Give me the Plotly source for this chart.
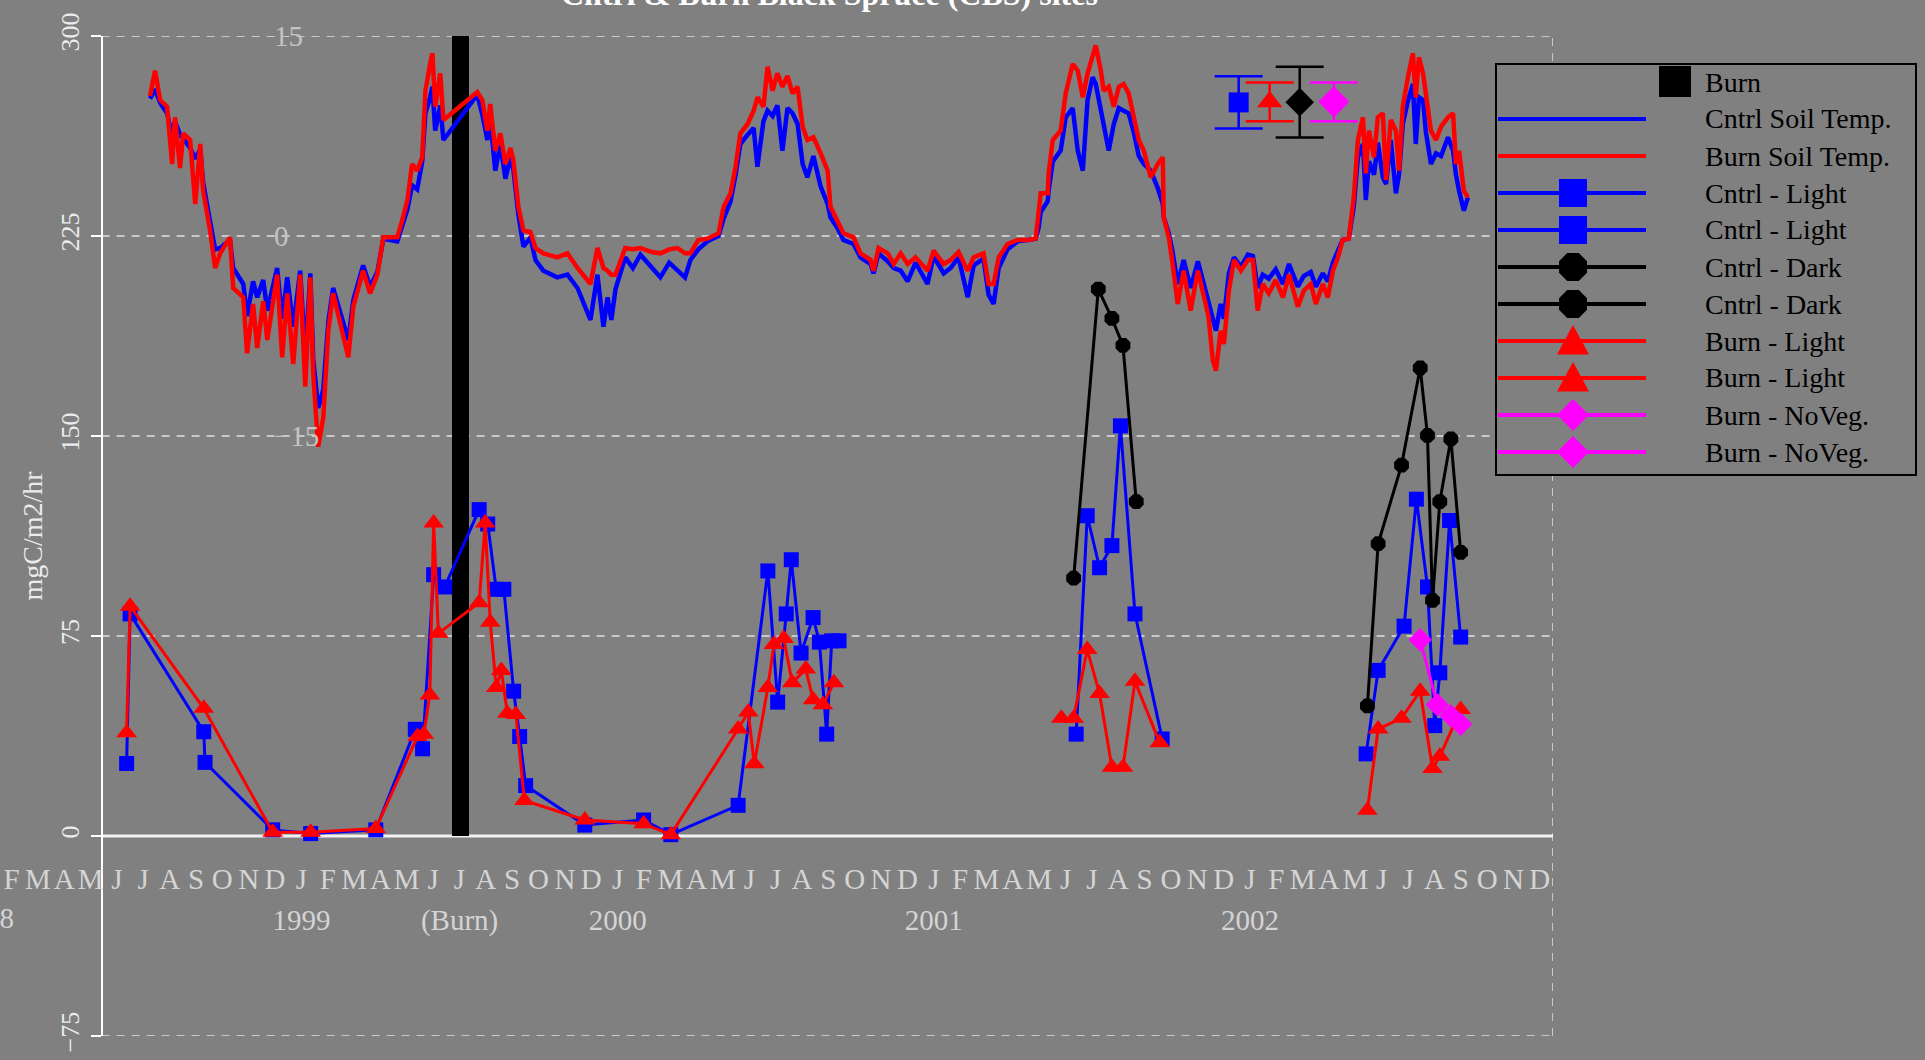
import plotly.graph_objects as go

# ---------------------------------------------------------------- data
# time axis in decimal years

# soil temperature (deg C), control and burned sites
temp_year = [
    1998.563, 1998.579, 1998.595, 1998.617, 1998.633, 1998.642, 1998.658, 1998.668, 1998.690, 1998.706,
    1998.722, 1998.731, 1998.753, 1998.769, 1998.785, 1998.816, 1998.826, 1998.858, 1998.870, 1998.889,
    1998.902, 1998.921, 1998.934, 1998.965, 1998.981, 1998.997, 1999.016, 1999.038, 1999.054, 1999.070,
    1999.079, 1999.095, 1999.111, 1999.127, 1999.142, 1999.190, 1999.206, 1999.237, 1999.259, 1999.282,
    1999.301, 1999.345, 1999.361, 1999.377, 1999.392, 1999.408, 1999.424, 1999.434, 1999.449, 1999.456,
    1999.465, 1999.481, 1999.491, 1999.598, 1999.614, 1999.630, 1999.639, 1999.655, 1999.671, 1999.687,
    1999.703, 1999.712, 1999.728, 1999.744, 1999.766, 1999.782, 1999.807, 1999.851, 1999.883, 1999.915,
    1999.956, 1999.978, 1999.997, 2000.010, 2000.022, 2000.035, 2000.066, 2000.090, 2000.114, 2000.150,
    2000.177, 2000.205, 2000.231, 2000.255, 2000.272, 2000.297, 2000.326, 2000.361, 2000.377, 2000.399,
    2000.415, 2000.430, 2000.453, 2000.472, 2000.484, 2000.503, 2000.516, 2000.532, 2000.547, 2000.563,
    2000.579, 2000.595, 2000.611, 2000.627, 2000.642, 2000.661, 2000.684, 2000.706, 2000.715, 2000.737,
    2000.756, 2000.788, 2000.810, 2000.842, 2000.851, 2000.867, 2000.896, 2000.915, 2000.937, 2000.959,
    2000.984, 2001.022, 2001.041, 2001.073, 2001.095, 2001.120, 2001.149, 2001.168, 2001.199, 2001.215,
    2001.231, 2001.247, 2001.275, 2001.307, 2001.339, 2001.364, 2001.373, 2001.380, 2001.402, 2001.405,
    2001.418, 2001.443, 2001.459, 2001.481, 2001.497, 2001.513, 2001.528, 2001.544, 2001.554, 2001.570,
    2001.579, 2001.595, 2001.611, 2001.627, 2001.642, 2001.658, 2001.674, 2001.690, 2001.706, 2001.728,
    2001.750, 2001.766, 2001.769, 2001.785, 2001.797, 2001.813, 2001.832, 2001.854, 2001.877, 2001.896,
    2001.911, 2001.924, 2001.934, 2001.949, 2001.959, 2001.975, 2001.991, 2002.013, 2002.035, 2002.051,
    2002.066, 2002.082, 2002.101, 2002.123, 2002.146, 2002.165, 2002.193, 2002.212, 2002.234, 2002.250,
    2002.272, 2002.288, 2002.304, 2002.320, 2002.335, 2002.354, 2002.370, 2002.383, 2002.399, 2002.408,
    2002.418, 2002.434, 2002.446, 2002.462, 2002.472, 2002.487, 2002.503, 2002.513, 2002.525, 2002.541,
    2002.557, 2002.566, 2002.576, 2002.589, 2002.598, 2002.614, 2002.630, 2002.646, 2002.668, 2002.684,
    2002.693, 2002.703, 2002.718, 2002.731,
]
burn_soil_temp = [
    10.5, 12.4, 10.2, 9.7, 5.4, 8.9, 5.1, 7.7, 7.2, 2.4,
    6.9, 3.4, 0.4, -2.4, -1.3, -0.1, -3.9, -4.6, -8.8, -5.1,
    -8.4, -4.9, -7.8, -2.9, -9.1, -4.3, -9.6, -2.9, -11.3, -3.1,
    -10.3, -15.8, -13.6, -7.1, -4.3, -9.1, -5.3, -2.6, -4.3, -2.9,
    -0.1, -0.1, 1.2, 2.7, 5.4, 4.9, 5.9, 10.9, 12.9, 13.7,
    9.7, 12.2, 8.7, 10.8, 10.2, 7.9, 9.9, 6.4, 7.7, 5.4,
    6.6, 5.7, 2.2, 0.4, 0.3, -0.9, -1.3, -1.6, -1.3, -2.4,
    -3.6, -0.9, -2.4, -2.6, -2.9, -2.9, -0.9, -1.0, -0.9, -1.2,
    -1.3, -1.0, -0.9, -1.3, -1.3, -0.3, -0.2, 0.2, 2.2, 3.2,
    5.2, 7.7, 8.4, 9.4, 10.4, 9.7, 12.7, 10.9, 12.2, 11.2,
    12.0, 10.7, 11.2, 8.2, 7.2, 7.4, 6.2, 4.9, 2.2, 1.2,
    0.2, -0.1, -1.3, -1.8, -2.6, -0.9, -1.3, -2.1, -1.3, -2.1,
    -1.6, -2.6, -1.1, -2.1, -1.8, -1.2, -2.6, -1.6, -1.3, -3.6,
    -3.6, -1.6, -0.6, -0.3, -0.3, -0.2, 1.4, 3.2, 3.2, 4.7,
    7.2, 7.9, 10.7, 12.9, 12.4, 10.4, 12.2, 13.4, 14.3, 12.4,
    10.9, 11.2, 9.7, 11.2, 11.4, 10.7, 8.9, 7.2, 6.4, 4.4,
    5.4, 5.9, 1.4, -0.1, -2.1, -5.1, -2.6, -5.6, -2.6, -4.6,
    -6.1, -9.3, -10.1, -7.1, -8.1, -4.1, -1.8, -2.6, -1.8, -1.8,
    -5.6, -3.6, -4.3, -3.3, -4.6, -2.9, -5.3, -4.1, -3.6, -5.1,
    -3.6, -4.6, -2.6, -1.6, -0.3, -0.2, 2.9, 7.2, 8.9, 4.7,
    7.9, 5.9, 8.9, 9.2, 4.2, 8.7, 7.9, 4.9, 9.7, 11.9,
    13.7, 10.4, 13.4, 12.2, 10.4, 7.9, 7.2, 8.2, 8.9, 9.2,
    5.4, 6.4, 3.4, 2.9,
]
cntrl_soil_temp = [
    10.3, 11.0, 10.0, 9.2, 7.5, 8.6, 7.6, 7.3, 6.6, 5.8,
    6.5, 4.0, 1.0, -1.0, -0.9, -0.3, -2.4, -3.6, -6.0, -3.4,
    -4.6, -3.3, -5.6, -2.4, -6.2, -3.1, -6.8, -2.6, -9.0, -2.8,
    -9.2, -12.9, -11.5, -6.4, -3.9, -7.8, -4.8, -2.2, -3.8, -2.7,
    -0.2, -0.4, 0.8, 2.0, 3.8, 3.5, 5.6, 9.2, 10.4, 11.2,
    7.9, 9.8, 7.2, 10.6, 9.1, 7.2, 8.8, 4.9, 6.9, 4.3,
    5.9, 5.0, 1.6, -0.8, -0.1, -1.8, -2.6, -3.1, -2.9, -3.9,
    -6.3, -2.9, -6.8, -4.6, -6.3, -4.0, -1.6, -2.4, -1.4, -2.4,
    -3.1, -2.0, -2.6, -3.1, -1.8, -1.0, -0.4, 0.0, 1.3, 2.6,
    4.6, 6.9, 7.6, 8.1, 5.2, 8.6, 9.4, 9.0, 9.8, 6.4,
    9.6, 9.2, 8.4, 5.4, 4.4, 6.0, 3.7, 2.4, 1.4, 0.6,
    -0.3, -0.6, -1.6, -2.1, -2.8, -1.3, -1.9, -2.4, -2.6, -3.4,
    -2.0, -3.6, -1.5, -2.8, -2.4, -1.6, -4.6, -2.2, -1.7, -4.4,
    -5.1, -2.4, -1.0, -0.4, -0.3, -0.2, 0.6, 1.8, 2.6, 3.4,
    5.6, 6.4, 8.9, 9.6, 6.4, 4.9, 10.2, 11.9, 11.4, 9.4,
    8.6, 6.4, 8.4, 9.6, 9.4, 9.2, 7.8, 6.0, 5.4, 4.9,
    3.6, 2.4, 1.4, 0.2, -1.2, -3.6, -1.8, -3.9, -1.9, -3.8,
    -5.0, -6.2, -7.1, -5.1, -6.2, -2.8, -1.6, -2.3, -1.4, -1.5,
    -3.9, -2.9, -3.2, -2.5, -3.6, -2.1, -3.8, -3.0, -2.7, -3.8,
    -2.8, -3.4, -2.0, -1.1, -0.3, -0.2, 2.2, 5.9, 6.9, 2.7,
    5.6, 4.6, 7.0, 4.4, 3.9, 7.2, 3.2, 4.6, 8.4, 10.1,
    11.4, 6.9, 10.4, 10.2, 7.8, 5.4, 6.2, 6.0, 7.4, 6.4,
    4.6, 3.4, 1.9, 2.9,
]

# CO2 efflux (mgC/m2/hr); None separates field seasons
cntrl_light_year = [
    1998.489, 1998.500, 1998.733, 1998.737, 1998.951, 1999.071, 1999.277, 1999.402, 1999.425, 1999.460,
    1999.495, 1999.604, 1999.631, 1999.658, 1999.682, 1999.713, 1999.732, 1999.751, 1999.938, 2000.124,
    2000.210, 2000.423, 2000.517, 2000.548, 2000.575, 2000.591, 2000.622, 2000.660, 2000.680, 2000.703,
    2000.719, 2000.742, None,
    2001.492, 2001.527, 2001.566, 2001.605, 2001.632, 2001.678, 2001.764, None,
    2002.409, 2002.447, 2002.529, 2002.568, 2002.603, 2002.626, 2002.642, 2002.673, 2002.708,
]
cntrl_light_flux = [
    27.2, 83.3, 39.1, 27.6, 2.3, 0.9, 2.3, 40.0, 32.7, 98.0,
    93.4, 122.4, 117.0, 92.5, 92.5, 54.3, 37.3, 18.9, 4.1, 6.0,
    0.5, 11.5, 99.4, 50.2, 83.3, 103.6, 68.6, 81.9, 72.7, 38.2,
    73.2, 73.2, None,
    38.2, 120.1, 100.6, 108.9, 153.8, 83.3, 36.4, None,
    30.8, 62.1, 78.7, 126.3, 93.4, 41.4, 61.2, 118.3, 74.6,
]

cntrl_dark_year = [
    2001.484, 2001.562, 2001.605, 2001.640, 2001.682, None,
    2002.413, 2002.447, 2002.521, 2002.580, 2002.603, 2002.619, 2002.642, 2002.677, 2002.708,
]
cntrl_dark_flux = [
    96.7, 205.1, 194.1, 184.0, 125.4, None,
    48.8, 109.6, 139.1, 175.5, 150.2, 88.4, 125.4, 148.9, 106.4,
]

burn_light_year = [
    1998.489, 1998.500, 1998.733, 1998.951, 1999.071, 1999.277, 1999.409, 1999.429, 1999.448, 1999.460,
    1999.475, 1999.604, 1999.623, 1999.639, 1999.658, 1999.674, 1999.693, 1999.720, 1999.747, 1999.938,
    2000.124, 2000.210, 2000.423, 2000.455, 2000.474, 2000.517, 2000.536, 2000.567, 2000.594, 2000.637,
    2000.660, 2000.691, 2000.726, None,
    2001.445, 2001.484, 2001.527, 2001.566, 2001.605, 2001.640, 2001.678, 2001.756, None,
    2002.413, 2002.447, 2002.521, 2002.580, 2002.619, 2002.642, 2002.708,
]
burn_light_flux = [
    38.7, 86.2, 47.9, 1.4, 1.4, 2.8, 37.3, 38.2, 52.9, 117.4,
    76.0, 87.5, 117.4, 80.2, 55.7, 62.1, 46.0, 45.6, 13.3, 6.0,
    4.6, 0.5, 40.1, 46.5, 27.1, 55.7, 71.8, 74.1, 57.5, 62.6,
    51.1, 49.2, 57.5, None,
    44.2, 44.2, 69.9, 53.4, 25.8, 25.8, 58.0, 35.0, None,
    9.7, 40.1, 44.2, 54.3, 25.3, 29.9, 47.4,
]

burn_noveg_year = [2002.580, 2002.634, 2002.677, 2002.708]
burn_noveg_flux = [73.6, 49.2, 45.1, 41.9]

# date of the burn
burn_year = [1999.544]
burn_height = [300]

# typical standard errors, shown as a key in the upper right
se_year = [2002.006, 2002.104, 2002.199, 2002.307]
se_flux = [275.1, 275.3, 275.2, 275.3]
se_err = [9.8, 7.3, 13.3, 7.3]

# axis labels
month_letters = ["J", "F", "M", "A", "M", "J", "J", "A", "S", "O", "N", "D"]
label_years = [1998, 1999, 2000, 2001, 2002]
year_tick_text = ["1999", "(Burn)", "2000", "2001", "2002"]
year_tick_vals = [1999.042, 1999.542, 2000.042, 2001.042, 2002.042]
first_year_text = "1998"
first_year_val = 1998.042
flux_ticks = [-75, 0, 75, 150, 225, 300]
temp_ticks = [-15, 0, 15]

legend_labels = ["Burn", "Cntrl Soil Temp.", "Burn Soil Temp.", "Cntrl - Light", "Cntrl - Light",
                 "Cntrl - Dark", "Cntrl - Dark", "Burn - Light", "Burn - Light",
                 "Burn - NoVeg.", "Burn - NoVeg."]

# ---------------------------------------------------------------- layout geometry
W, H = 1925, 1060
M_L, M_R, M_T, M_B = 0, 372, 36, 24
PW, PH = W - M_L - M_R, H - M_T - M_B

X_MIN, X_MAX = 1998.0886, 2003.0     # plot-area span (room for early month letters)
X_AXIS = 1998.41                      # where the flux axis sits
Y_MIN, Y_MAX = -75, 300

BG = "#808080"
GRID = "#c8c8c8"
BLUE, RED, BLACK, MAGENTA = "#0000ff", "#ff0000", "#000000", "#ff00ff"
SERIF = "Liberation Serif, Times New Roman, serif"


def px_x(p):
    return (p - M_L) / PW


def px_y(p):
    return (H - M_B - p) / PH


def year_to_paper(v):
    return (v - X_MIN) / (X_MAX - X_MIN)


month_vals, month_text = [], []
for yr in label_years:
    for i, letter in enumerate(month_letters):
        v = yr + (i + 0.5) / 12
        if X_MIN < v < X_MAX:
            month_vals.append(v)
            month_text.append(letter)

fig = go.Figure()

# burn date
fig.add_trace(go.Bar(x=burn_year, y=burn_height, width=[0.054], marker=dict(color=BLACK, line=dict(width=0)),
                     showlegend=False, hoverinfo="skip"))

# soil temperatures on the inner temperature scale
fig.add_trace(go.Scatter(x=temp_year, y=cntrl_soil_temp, yaxis="y2", mode="lines",
                         line=dict(color=BLUE, width=4.5), showlegend=False))
fig.add_trace(go.Scatter(x=temp_year, y=burn_soil_temp, yaxis="y2", mode="lines",
                         line=dict(color=RED, width=4.5), showlegend=False))

# fluxes
fig.add_trace(go.Scatter(x=cntrl_light_year, y=cntrl_light_flux, mode="lines+markers",
                         line=dict(color=BLUE, width=3), marker=dict(symbol="square", size=15, color=BLUE),
                         showlegend=False))
fig.add_trace(go.Scatter(x=cntrl_dark_year, y=cntrl_dark_flux, mode="lines+markers",
                         line=dict(color=BLACK, width=3), marker=dict(symbol="octagon", size=16, color=BLACK),
                         showlegend=False))
fig.add_trace(go.Scatter(x=burn_light_year, y=burn_light_flux, mode="lines+markers",
                         line=dict(color=RED, width=3), marker=dict(symbol="triangle-up", size=18, color=RED),
                         showlegend=False))
fig.add_trace(go.Scatter(x=burn_noveg_year, y=burn_noveg_flux, mode="lines+markers",
                         line=dict(color=MAGENTA, width=3), marker=dict(symbol="diamond", size=18, color=MAGENTA),
                         showlegend=False))

# standard-error key
se_colors = [BLUE, RED, BLACK, MAGENTA]
se_symbols = ["square", "triangle-up", "diamond", "diamond"]
se_sizes = [20, 22, 22, 24]
for i in range(len(se_year)):
    fig.add_trace(go.Scatter(
        x=[se_year[i]], y=[se_flux[i]], mode="markers",
        marker=dict(symbol=se_symbols[i], size=se_sizes[i], color=se_colors[i]),
        error_y=dict(type="data", array=[se_err[i]], color=se_colors[i], thickness=2.5, width=24),
        showlegend=False))

# carrier for the year-label axis
fig.add_trace(go.Scatter(x=[], y=[], xaxis="x2", showlegend=False, hoverinfo="skip"))

# ---------------------------------------------------------------- frame and grid
shapes = []
for v in [-75, 75, 150, 225, 300]:
    shapes.append(dict(type="line", xref="x", yref="y", x0=X_AXIS, x1=X_MAX, y0=v, y1=v,
                       line=dict(color=GRID, width=2, dash="8px,7px"), layer="below"))
shapes.append(dict(type="line", xref="x", yref="y", x0=X_MAX, x1=X_MAX, y0=Y_MIN, y1=Y_MAX,
                   line=dict(color=GRID, width=2, dash="8px,7px"), layer="below"))
shapes.append(dict(type="line", xref="x", yref="y", x0=X_AXIS, x1=X_MAX, y0=0, y1=0,
                   line=dict(color="#f2f2f2", width=3), layer="below"))

# ---------------------------------------------------------------- key box
LG_X0, LG_X1, LG_Y0, LG_Y1 = 1496, 1916, 64, 475
shapes.append(dict(type="rect", xref="paper", yref="paper", x0=px_x(LG_X0), x1=px_x(LG_X1),
                   y0=px_y(LG_Y1), y1=px_y(LG_Y0), fillcolor=BG, line=dict(color=BLACK, width=2),
                   layer="above"))


def glyph(kind, s):
    h = s / 2
    if kind == "square":
        return f"M{-h},{-h} L{h},{-h} L{h},{h} L{-h},{h} Z"
    if kind == "octagon":
        a = h * 0.414
        return (f"M{-a},{-h} L{a},{-h} L{h},{-a} L{h},{a} L{a},{h} L{-a},{h} "
                f"L{-h},{a} L{-h},{-a} Z")
    if kind == "triangle":
        return f"M{-h},{-h * 0.85} L{h},{-h * 0.85} L0,{h} Z"
    if kind == "diamond":
        return f"M0,{-h} L{h},0 L0,{h} L{-h},0 Z"


row_specs = [
    (None, None, 0),
    (BLUE, None, 0), (RED, None, 0),
    (BLUE, "square", 28), (BLUE, "square", 28),
    (BLACK, "octagon", 28), (BLACK, "octagon", 28),
    (RED, "triangle", 32), (RED, "triangle", 32),
    (MAGENTA, "diamond", 32), (MAGENTA, "diamond", 32),
]
annotations = []
for i, (label, (col, kind, size)) in enumerate(zip(legend_labels, row_specs)):
    yc = 82 + 37 * i
    if i == 0:
        shapes.append(dict(type="rect", xref="paper", yref="paper", x0=px_x(1659), x1=px_x(1691),
                           y0=px_y(yc + 15), y1=px_y(yc - 16), fillcolor=BLACK, line=dict(width=0),
                           layer="above"))
    else:
        shapes.append(dict(type="line", xref="paper", yref="paper", x0=px_x(1498), x1=px_x(1646),
                           y0=px_y(yc), y1=px_y(yc), line=dict(color=col, width=4), layer="above"))
        if kind:
            shapes.append(dict(type="path", xref="paper", yref="paper",
                               xsizemode="pixel", ysizemode="pixel",
                               xanchor=px_x(1573), yanchor=px_y(yc), path=glyph(kind, size),
                               fillcolor=col, line=dict(width=0), layer="above"))
    annotations.append(dict(xref="paper", yref="paper", x=px_x(1703), y=px_y(yc), text=label,
                            showarrow=False, xanchor="left", yanchor="middle",
                            font=dict(family=SERIF, size=28, color=BLACK)))

# chart title, mostly running off the top edge
annotations.append(dict(xref="paper", yref="paper", x=px_x(829), y=px_y(-6),
                        text="<b>Cntrl & Burn Black Spruce (CBS) sites</b>",
                        showarrow=False, xanchor="center", yanchor="middle",
                        font=dict(family=SERIF, size=32, color="#ffffff")))

# year label of the first (partly visible) season, left of the plot range
annotations.append(dict(xref="paper", yref="paper", x=year_to_paper(first_year_val), y=px_y(918),
                        text=first_year_text, showarrow=False, xanchor="center", yanchor="middle",
                        font=dict(family=SERIF, size=29, color="#d4d4d4")))

# ---------------------------------------------------------------- layout
fig.update_layout(
    width=W, height=H,
    margin=dict(l=M_L, r=M_R, t=M_T, b=M_B, pad=0),
    paper_bgcolor=BG, plot_bgcolor=BG,
    showlegend=False,
    xaxis=dict(range=[X_MIN, X_MAX], showgrid=False, zeroline=False, showline=False,
               tickmode="array", tickvals=month_vals, ticktext=month_text, ticks="",
               anchor="free", position=px_y(859),
               tickfont=dict(family=SERIF, size=29, color="#d4d4d4")),
    xaxis2=dict(range=[X_MIN, X_MAX], overlaying="x", showgrid=False, zeroline=False, showline=False,
                tickmode="array", tickvals=year_tick_vals, ticktext=year_tick_text, ticks="",
                anchor="free", position=px_y(900), side="bottom",
                tickfont=dict(family=SERIF, size=29, color="#d4d4d4")),
    yaxis=dict(range=[Y_MIN, Y_MAX], tickmode="array", tickvals=flux_ticks,
               showgrid=False, zeroline=False, showline=True, linecolor="#ffffff", linewidth=2,
               ticks="outside", ticklen=10, tickwidth=2, tickcolor="#ffffff",
               tickangle=-90, ticklabelstandoff=1,
               anchor="free", position=(X_AXIS - X_MIN) / (X_MAX - X_MIN),
               tickfont=dict(family=SERIF, size=26, color="#ececec"),
               title=dict(text="mgC/m2/hr", standoff=4,
                          font=dict(family=SERIF, size=28, color="#ececec"))),
    yaxis2=dict(range=[-60, 15], overlaying="y", tickmode="array", tickvals=temp_ticks,
                showgrid=False, zeroline=False, showline=False, ticks="",
                anchor="free", position=px_x(273), side="right",
                tickfont=dict(family=SERIF, size=29, color="#c4c4c4")),
    shapes=shapes,
    annotations=annotations,
    bargap=0,
)

fig.write_html("out.html", config={"displayModeBar": False})
